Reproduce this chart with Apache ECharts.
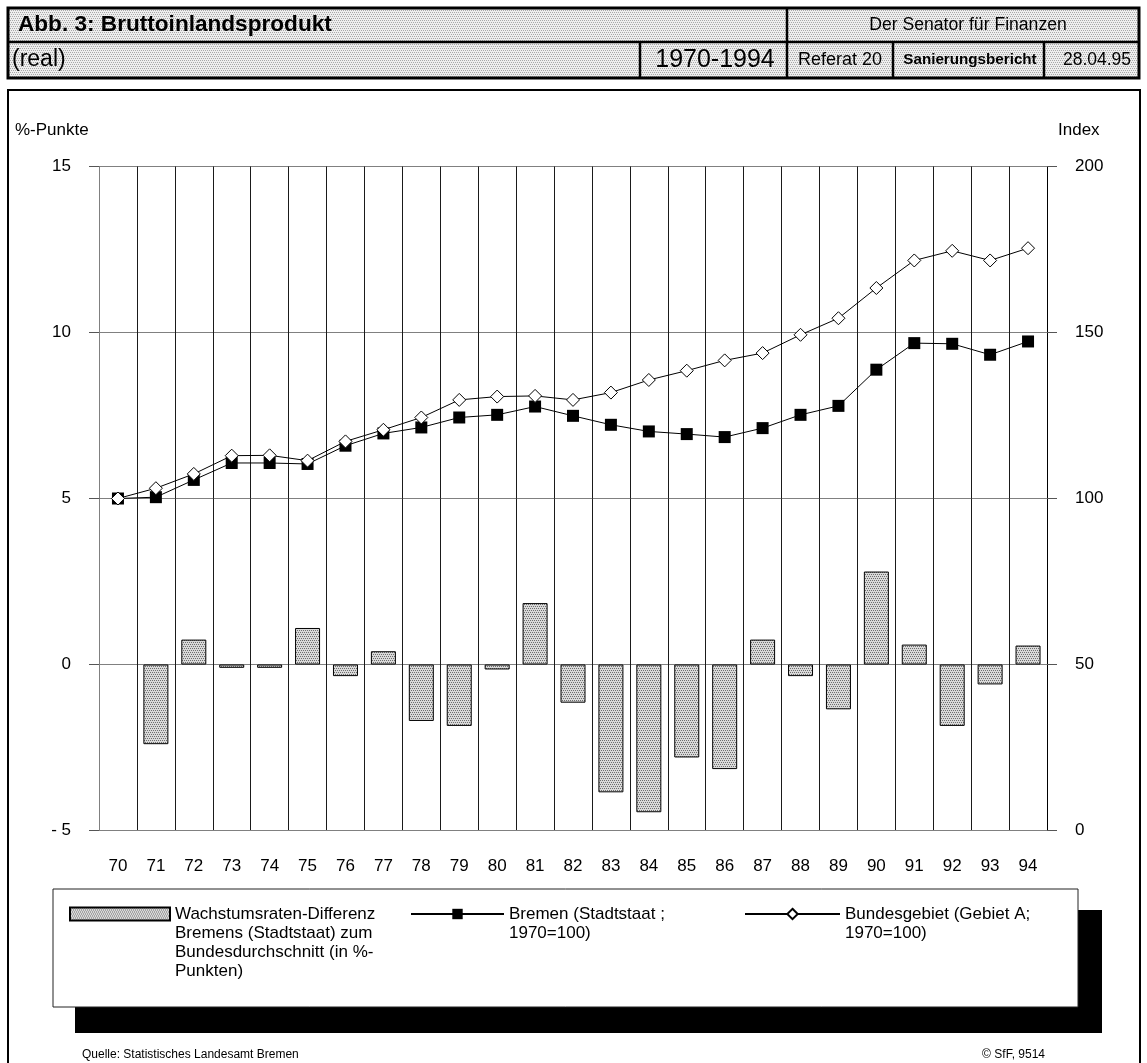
<!DOCTYPE html>
<html>
<head>
<meta charset="utf-8">
<script src="https://cdn.jsdelivr.net/npm/echarts@6/dist/echarts.min.js"></script>
<style>
  html, body { margin: 0; padding: 0; background: #fff; }
  #chart { width: 1147px; height: 1063px; }
</style>
</head>
<body>
<div id="chart"></div>
<script>
// Years 1970-1994, shown as two-digit labels
const years = ['70','71','72','73','74','75','76','77','78','79','80','81','82',
               '83','84','85','86','87','88','89','90','91','92','93','94'];

// Growth-rate difference Bremen vs. federal average (percentage points)
const growthDiff = [null, -2.4, 0.75, -0.1, -0.1, 1.1, -0.35, 0.4, -1.7, -1.85, -0.15, 1.85, -1.15,
                    -3.85, -4.45, -2.8, -3.15, 0.75, -0.35, -1.35, 2.8, 0.6, -1.85, -0.6, 0.57];

// Real GDP index, Bremen (city state), 1970 = 100
const bremenIndex = [100, 100.4, 105.6, 110.7, 110.7, 110.4, 115.9, 119.6, 121.4, 124.4, 125.2, 127.7, 124.9,
                     122.2, 120.2, 119.4, 118.5, 121.2, 125.2, 127.9, 138.8, 146.8, 146.6, 143.3, 147.3];

// Real GDP index, federal territory (area A), 1970 = 100
const bundIndex = [100, 103.1, 107.4, 112.9, 113.0, 111.4, 117.2, 120.7, 124.4, 129.7, 130.7, 130.9, 129.7,
                   131.9, 135.7, 138.5, 141.6, 143.8, 149.3, 154.3, 163.4, 171.7, 174.6, 171.7, 175.4];

// Axis ticks
const leftTicks = { min: -5, max: 15, step: 5 };
const rightTicks = { min: 0, max: 200, step: 50 };

// Legend texts (one entry per printed line)
const diffLines = ['Wachstumsraten-Differenz', 'Bremens (Stadtstaat) zum', 'Bundesdurchschnitt (in %-', 'Punkten)'];
const hbLines = ['Bremen (Stadtstaat ;', '1970=100)'];
const bundLines = ['Bundesgebiet (Gebiet A;', '1970=100)'];

const NAME_DIFF = diffLines.join(' ');
const NAME_HB = hbLines.join(' ');
const NAME_BUND = bundLines.join(' ');

const FONT = "'Liberation Sans', Arial, sans-serif";

// Small stipple tiles used as fill patterns (offset dot grid)
function stipple(dark, light) {
  const c = document.createElement('canvas');
  c.width = 4; c.height = 4;
  const ctx = c.getContext('2d');
  ctx.fillStyle = light; ctx.fillRect(0, 0, 4, 4);
  ctx.fillStyle = dark;
  [[0, 0], [2, 0], [1, 2], [3, 2]].forEach(p => ctx.fillRect(p[0], p[1], 1, 1));
  return c;
}
const barPattern = { image: stipple('#6e6e6e', '#d9d9d9'), repeat: 'repeat' };
const headPattern = { image: stipple('#a8a8a8', '#eeeeee'), repeat: 'repeat' };

function txt(x, y, text, size, opts) {
  return Object.assign({
    type: 'text', x: x, y: y, z: 10,
    style: Object.assign({ text: text, font: size + 'px ' + FONT, fill: '#000',
      textAlign: 'left', textVerticalAlign: 'middle' }, opts && opts.style)
  }, opts && opts.el);
}
function hline(x1, x2, y, w) {
  return { type: 'line', z: 11, shape: { x1: x1, y1: y, x2: x2, y2: y }, style: { stroke: '#000', lineWidth: w } };
}
function vline(x, y1, y2, w) {
  return { type: 'line', z: 11, shape: { x1: x, y1: y1, x2: x, y2: y2 }, style: { stroke: '#000', lineWidth: w } };
}

const graphics = [
  // header table
  { type: 'rect', z: 9, shape: { x: 8, y: 8, width: 1131, height: 70 }, style: { fill: headPattern, stroke: '#000', lineWidth: 3 } },
  hline(8, 1139, 42, 2.5),
  vline(787, 8, 78, 2.5),
  vline(640, 42, 78, 2.5),
  vline(893, 42, 78, 2.5),
  vline(1044, 42, 78, 2.5),
  txt(18, 25, 'Abb. 3: Bruttoinlandsprodukt', 22.6, { style: { font: 'bold 22.6px ' + FONT } }),
  txt(968, 25, 'Der Senator für Finanzen', 17.6, { style: { textAlign: 'center' } }),
  txt(12, 60, '(real)', 23),
  txt(715, 60, '1970-1994', 25, { style: { textAlign: 'center' } }),
  txt(840, 60, 'Referat 20', 18, { style: { textAlign: 'center' } }),
  txt(970, 60, 'Sanierungsbericht', 15.2, { style: { font: 'bold 15.2px ' + FONT, textAlign: 'center' } }),
  txt(1097, 60, '28.04.95', 17.5, { style: { textAlign: 'center' } }),
  // chart frame
  { type: 'rect', z: 1, shape: { x: 8, y: 90, width: 1132, height: 1100 }, style: { fill: null, stroke: '#000', lineWidth: 2 } },
  // axis titles
  txt(15, 130, '%-Punkte', 17),
  txt(1058, 130, 'Index', 17),
  // legend box with drop shadow
  { type: 'rect', z: 2, shape: { x: 75, y: 910, width: 1027, height: 123 }, style: { fill: '#000' } },
  { type: 'rect', z: 3, shape: { x: 53, y: 889, width: 1025, height: 118 }, style: { fill: '#fff', stroke: '#222', lineWidth: 1 } },
  // footer
  txt(82, 1055, 'Quelle: Statistisches Landesamt Bremen', 12),
  txt(1045, 1055, '© SfF, 9514', 12, { style: { textAlign: 'right' } })
];

// Legend entry: the first text line sits level with the icon; the text block is
// padded with leading blank lines so that the centred block starts at the icon.
const LEG_LH = 19;
const ICON_CY = 914;
function legendFor(name, lines, left, itemWidth, icon) {
  const n = lines.length;
  const l = {
    data: [name], left: left, top: ICON_CY - (n - 0.5) * LEG_LH, orient: 'horizontal',
    itemWidth: itemWidth, itemHeight: 13, padding: 0, itemGap: 0,
    selectedMode: false, z: 20,
    formatter: () => '\n'.repeat(n - 1) + lines.join('\n'),
    textStyle: { fontFamily: FONT, fontSize: 17, color: '#000', lineHeight: LEG_LH }
  };
  if (icon) l.icon = icon;
  return l;
}

const chart = echarts.init(document.getElementById('chart'), null, { renderer: 'canvas' });
chart.setOption({
  animation: false,
  backgroundColor: '#fff',
  textStyle: { fontFamily: FONT },
  grid: { left: 99, right: 100, top: 166.5, bottom: 232.5, containLabel: false },
  legend: [
    legendFor(NAME_DIFF, diffLines, 69, 100, 'rect'),
    legendFor(NAME_HB, hbLines, 410, 93),
    legendFor(NAME_BUND, bundLines, 744, 95)
  ],
  xAxis: {
    type: 'category', data: years, boundaryGap: true, position: 'bottom',
    axisLine: { onZero: false, lineStyle: { color: '#808080', width: 1 } },
    axisTick: { show: false },
    axisLabel: { color: '#000', fontSize: 17, margin: 27, interval: 0 },
    splitLine: { show: true, interval: 0, lineStyle: { color: '#1a1a1a', width: 1 } }
  },
  yAxis: [
    {
      type: 'value', min: leftTicks.min, max: leftTicks.max, interval: leftTicks.step,
      axisLine: { show: true, lineStyle: { color: '#808080' } },
      axisTick: { show: true, length: 10, lineStyle: { color: '#555' } },
      axisLabel: { color: '#000', fontSize: 17, margin: 28,
        formatter: v => v < 0 ? '- ' + Math.abs(v) : String(v) },
      splitLine: { show: true, lineStyle: { color: '#808080', width: 1 } }
    },
    {
      type: 'value', min: rightTicks.min, max: rightTicks.max, interval: rightTicks.step,
      axisLine: { show: true, lineStyle: { color: '#000' } },
      axisTick: { show: true, length: 10, lineStyle: { color: '#555' } },
      axisLabel: { color: '#000', fontSize: 17, margin: 28 },
      splitLine: { show: false }
    }
  ],
  graphic: graphics,
  series: [
    {
      name: NAME_DIFF, type: 'bar', yAxisIndex: 0, data: growthDiff, barWidth: 25,
      itemStyle: { color: barPattern, borderColor: '#000', borderWidth: 1 }
    },
    {
      name: NAME_HB, type: 'line', yAxisIndex: 1, data: bremenIndex,
      symbol: 'rect', symbolSize: 12, showAllSymbol: true,
      lineStyle: { color: '#000', width: 1 },
      itemStyle: { color: '#000', borderColor: '#000', borderWidth: 0 }
    },
    {
      name: NAME_BUND, type: 'line', yAxisIndex: 1, data: bundIndex,
      symbol: 'diamond', symbolSize: 13, showAllSymbol: true,
      lineStyle: { color: '#000', width: 1 },
      itemStyle: { color: '#fff', borderColor: '#000', borderWidth: 1 }
    }
  ]
});
</script>
</body>
</html>
